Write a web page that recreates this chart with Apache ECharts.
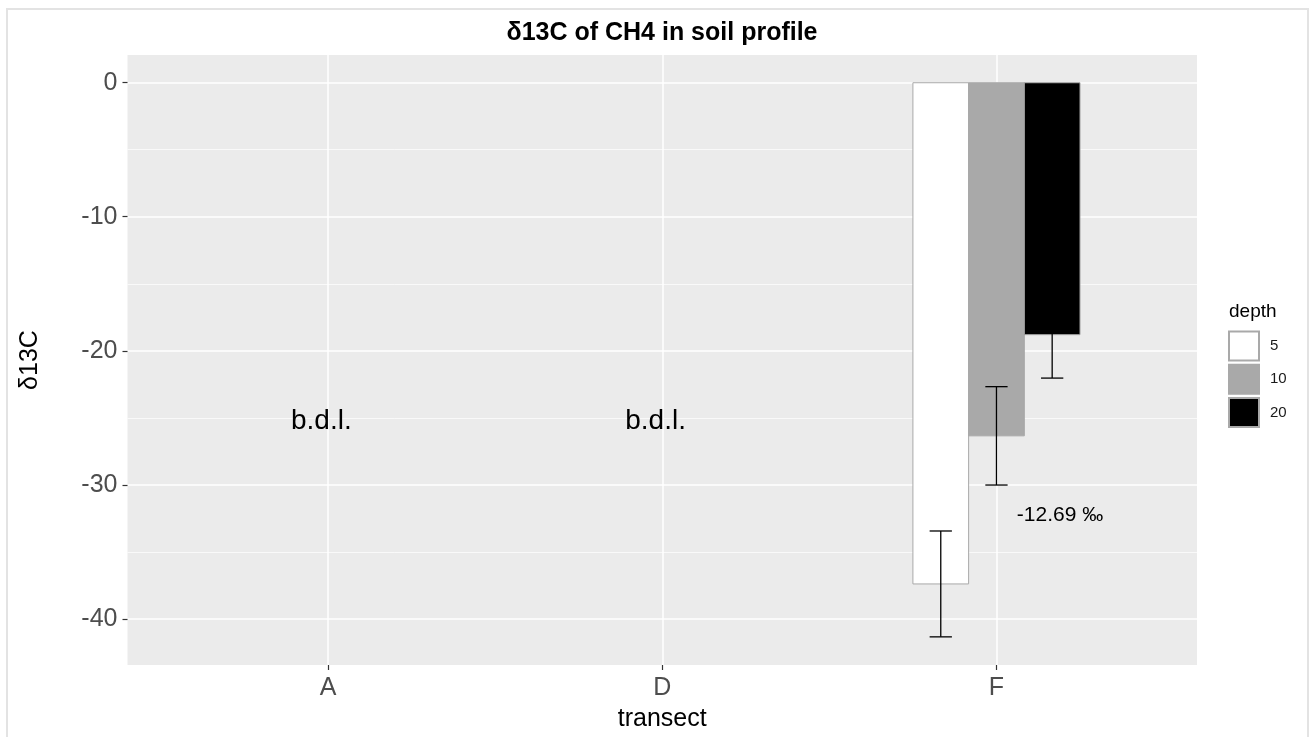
<!DOCTYPE html>
<html><head><meta charset="utf-8">
<script src="https://cdn.jsdelivr.net/npm/echarts@6/dist/echarts.min.js"></script>
<style>html,body{margin:0;padding:0;background:#fff}#c{width:1311px;height:737px}</style>
</head><body><div id="c"></div>
<script>
// ---- data ----
const categories = ['A', 'D', 'F'];
const depths = ['5', '10', '20'];
const mean5 = [null, null, -37.4];
const sd5 = [null, null, 3.95];
const mean10 = [null, null, -26.35];
const sd10 = [null, null, 3.67];
const mean20 = [null, null, -18.8];
const sd20 = [null, null, 3.24];
const yTicks = [0, -10, -20, -30, -40];
const yMinorTicks = [-5, -15, -25, -35];
const xTicks = [1, 2, 3];
const bdlLabels = [[0.98, -25.3, 'b.d.l.'], [1.98, -25.3, 'b.d.l.']];
const noteLabels = [[3.19, -32.3, '-12.69 ‰']];

// ---- styling ----
const fills = ['#FFFFFF', '#A9A9A9', '#000000'];
const borderCol = '#A9A9A9';
const FONT = 'Liberation Sans, Arial, sans-serif';
const means = [mean5, mean10, mean20];
const sds = [sd5, sd10, sd20];

function makeRender(k) {
  return function (params, api) {
    const xi = api.value(0), v = api.value(1), sd = api.value(2);
    const unit = api.size([1, 0])[0];
    const bw = unit * 0.5 / 3;
    const base = api.coord([xi, 0]);
    const cx = base[0] + (k - 1) * bw;
    const y0 = base[1];
    const y1 = api.coord([xi, v])[1];
    const ya = api.coord([xi, v + sd])[1];
    const yb = api.coord([xi, v - sd])[1];
    const cap = unit * 0.2 / 3 / 2;
    const es = { stroke: '#000', lineWidth: 1.3 };
    return {
      type: 'group', children: [
        { type: 'rect', shape: { x: cx - bw / 2, y: Math.min(y0, y1), width: bw, height: Math.abs(y1 - y0) },
          style: { fill: fills[k], stroke: borderCol, lineWidth: 1 } },
        { type: 'line', shape: { x1: cx, y1: ya, x2: cx, y2: yb }, style: es },
        { type: 'line', shape: { x1: cx - cap, y1: ya, x2: cx + cap, y2: ya }, style: es },
        { type: 'line', shape: { x1: cx - cap, y1: yb, x2: cx + cap, y2: yb }, style: es }
      ]
    };
  };
}

const barSeries = depths.map((d, k) => {
  const data = [];
  means[k].forEach((v, i) => { if (v !== null) data.push([i + 1, v, sds[k][i]]); });
  return {
    name: d, type: 'custom', renderItem: makeRender(k), data: data,
    itemStyle: { color: fills[k], borderColor: borderCol, borderWidth: 1 },
    xAxisIndex: 0, yAxisIndex: 0, z: 3
  };
});

const textSets = { bdl: bdlLabels, note: noteLabels };
function textRender(size) {
  return function (params, api) {
    const p = api.coord([api.value(0), api.value(1)]);
    return { type: 'text', x: p[0], y: p[1],
      style: { text: textSets[params.seriesName][params.dataIndex][2], fontSize: size, fontFamily: FONT, fill: '#000',
        align: 'center', verticalAlign: 'middle' } };
  };
}

const chart = echarts.init(document.getElementById('c'), null, { renderer: 'canvas' });
chart.setOption({
  animation: false,
  backgroundColor: '#fff',
  title: {
    text: 'δ13C of CH4 in soil profile', left: 662, top: 21, textAlign: 'center', padding: 0,
    textStyle: { fontSize: 25, fontWeight: 'bold', fontFamily: FONT, color: '#000' }
  },
  grid: { left: 127.5, right: 114, top: 55, bottom: 71.3, show: true, backgroundColor: '#EBEBEB', borderWidth: 0, containLabel: false },
  legend: {
    orient: 'vertical', left: 1228, top: 330.5, padding: 0, icon: 'rect',
    itemWidth: 30, itemHeight: 29, itemGap: 2.3, data: depths,
    textStyle: { fontSize: 15, fontFamily: FONT, color: '#1A1A1A', padding: [0, 0, 0, 6] },
    selectedMode: false
  },
  graphic: [
    { type: 'rect', z: -10, shape: { x: 7, y: 9, width: 1301, height: 740 }, style: { fill: 'none', stroke: '#E3E3E3', lineWidth: 2 } },
    { type: 'text', x: 1229, y: 312, style: { text: 'depth', fontSize: 19, fontFamily: FONT, fill: '#000', align: 'left', verticalAlign: 'middle' } }
  ],
  xAxis: {
    type: 'value', min: 0.4, max: 3.6, position: 'bottom',
    name: 'transect', nameLocation: 'middle', nameGap: 42,
    nameTextStyle: { fontSize: 25, fontFamily: FONT, color: '#000' },
    axisLine: { show: false, onZero: false },
    axisTick: { show: true, length: 5, customValues: xTicks, lineStyle: { color: '#333', width: 1.2 } },
    axisLabel: { customValues: xTicks, margin: 11, fontSize: 25, fontFamily: FONT, color: '#4D4D4D',
      formatter: v => categories[Math.round(v) - 1] },
    splitLine: { show: true, lineStyle: { color: '#FFFFFF', width: 1.5 } }
  },
  yAxis: [{
    type: 'value', min: -43.45, max: 2.07, position: 'left',
    name: 'δ13C', nameLocation: 'middle', nameGap: 85,
    nameTextStyle: { fontSize: 25, fontFamily: FONT, color: '#000' },
    axisLine: { show: false, onZero: false },
    axisTick: { show: true, length: 5, customValues: yTicks, lineStyle: { color: '#333', width: 1.2 } },
    axisLabel: { customValues: yTicks, margin: 10, fontSize: 25, fontFamily: FONT, color: '#4D4D4D' },
    splitLine: { show: true, lineStyle: { color: '#FFFFFF', width: 1.5 } }
  }, {
    type: 'value', min: -43.45, max: 2.07, position: 'left',
    axisLine: { show: false, onZero: false },
    axisTick: { show: false, customValues: yMinorTicks },
    axisLabel: { show: false, customValues: yMinorTicks },
    splitLine: { show: true, lineStyle: { color: '#FFFFFF', width: 0.7 } }
  }],
  series: barSeries.concat([
    { name: 'bdl', type: 'custom', data: bdlLabels.map(d => [d[0], d[1]]), renderItem: textRender(28), z: 5, silent: true },
    { name: 'note', type: 'custom', data: noteLabels.map(d => [d[0], d[1]]), renderItem: textRender(21), z: 5, silent: true }
  ])
});
</script>
</body></html>
